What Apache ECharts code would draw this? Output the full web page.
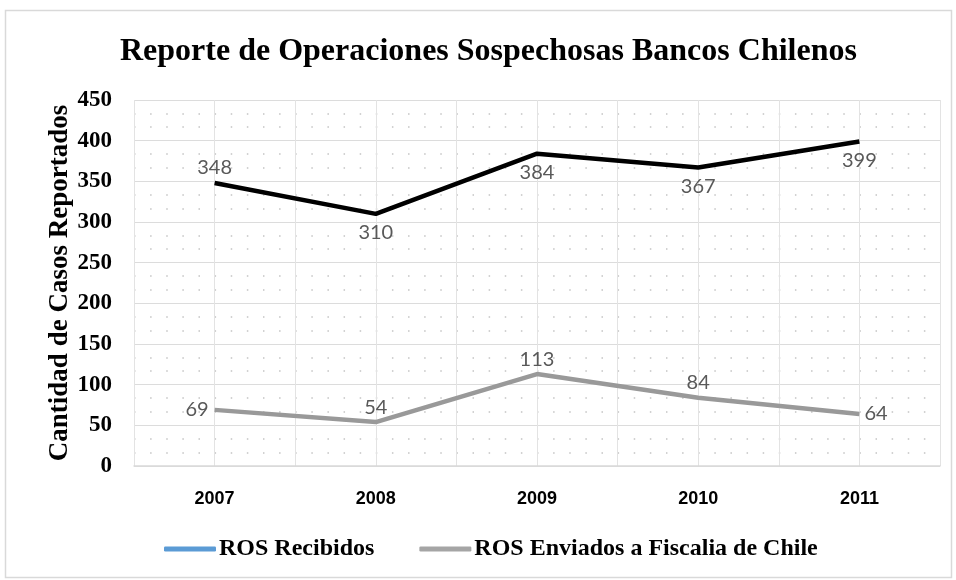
<!DOCTYPE html>
<html><head><meta charset="utf-8">
<script src="https://cdn.jsdelivr.net/npm/echarts@6/dist/echarts.min.js"></script>
<style>html,body{margin:0;padding:0;background:#fff}#c{width:956px;height:580px}</style>
</head><body><div id="c"></div>
<script>
const categories = ['2007','2008','2009','2010','2011'];
const recibidos = [348, 310, 384, 367, 399];
const enviados = [69, 54, 113, 84, 64];
const recibidosLabelPos = ['top','bottom','bottom','bottom','bottom'];
const enviadosLabelPos = ['left','top','top','top','right'];
const seriesNames = ['ROS Recibidos','ROS Enviados a Fiscalia de Chile'];
const yTicks = {min:0, max:450, interval:50};

const chart = echarts.init(document.getElementById('c'));
const serif = '"Liberation Serif","Times New Roman",serif';
const labelFont = {fontFamily:'Lato, "Noto Sans", sans-serif', fontSize:20, color:'#595959'};

function mkData(vals, pos){
  return vals.map((v,i)=>({value:v, label:{position:pos[i], distance: pos[i]==='bottom' ? 9 : (pos[i]==='left' ? 6 : 5)}}));
}

chart.setOption({
  animation:false,
  backgroundColor:'#fff',
  graphic:[{type:'rect', shape:{x:5.5,y:10.5,width:946,height:567}, style:{fill:'none', stroke:'#D9D9D9', lineWidth:1.5}, silent:true}],
  title:{text:'Reporte de Operaciones Sospechosas Bancos Chilenos', left:115, top:31,
    textStyle:{fontFamily:serif, fontWeight:'bold', fontSize:32, color:'#000'}},
  grid:{left:134, right:16, top:100, bottom:114},
  legend:{bottom:14, left:159, itemWidth:52, itemHeight:5, itemGap:45, icon:'roundRect',
    textStyle:{fontFamily:serif, fontWeight:'bold', fontSize:24, color:'#000', padding:[0,0,0,-2]},
    data:[{name:seriesNames[0], itemStyle:{color:'#5B9BD5'}},{name:seriesNames[1], itemStyle:{color:'#A5A5A5'}}]},
  xAxis:[{type:'category', data:categories, boundaryGap:true,
    axisLine:{lineStyle:{color:'#D9D9D9', width:1.5}}, axisTick:{show:false},
    axisLabel:{fontFamily:'"Liberation Sans",Arial,sans-serif', fontWeight:'bold', fontSize:18, color:'#000', margin:24},
    splitLine:{show:false}},
   {type:'value', min:0, max:10, interval:1, show:true, position:'top',
    axisLine:{show:false}, axisTick:{show:false}, axisLabel:{show:false},
    splitLine:{show:true, lineStyle:{color:'#E3E3E3', width:1}},
    minorTick:{show:false}}],
  yAxis:{type:'value', min:yTicks.min, max:yTicks.max, interval:yTicks.interval,
    name:'Cantidad de Casos Reportados', nameLocation:'middle', nameGap:60, nameRotate:90, nameMoveOverlap:false,
    nameTextStyle:{fontFamily:serif, fontWeight:'bold', fontSize:27, color:'#000'},
    axisLine:{show:false}, axisTick:{show:false},
    axisLabel:{fontFamily:serif, fontWeight:'bold', fontSize:23, color:'#000', margin:22},
    splitLine:{lineStyle:{color:'#DCDCDC', width:1.2}},
    minorTick:{show:false, splitNumber:3},
    minorSplitLine:{show:true, lineStyle:{color:'#C4C4C4', width:1.5, type:[1.5,14.62], dashOffset:0}}},
  series:[
    {name:seriesNames[0], type:'line', data:mkData(recibidos, recibidosLabelPos), showSymbol:true, symbol:'circle', symbolSize:0,
      itemStyle:{color:'#5B9BD5'}, lineStyle:{color:'#000', width:4.5},
      label:{show:true, ...labelFont}, labelLayout:{hideOverlap:false}},
    {name:seriesNames[1], type:'line', data:mkData(enviados, enviadosLabelPos), showSymbol:true, symbol:'circle', symbolSize:0,
      itemStyle:{color:'#A5A5A5'}, lineStyle:{color:'#999999', width:4.5},
      label:{show:true, ...labelFont}}
  ]
});
</script></body></html>
